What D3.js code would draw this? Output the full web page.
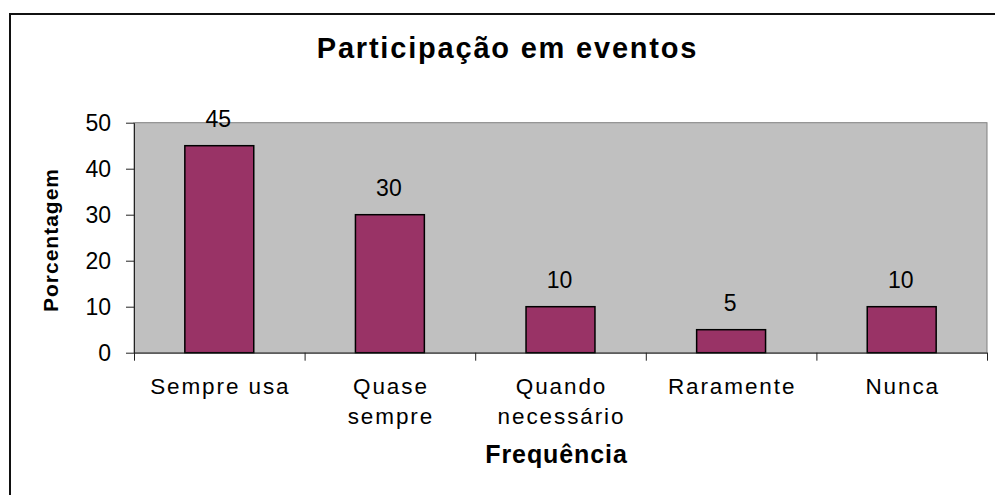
<!DOCTYPE html>
<html>
<head>
<meta charset="utf-8">
<script src="https://cdn.jsdelivr.net/npm/d3@7"></script>
<style>
  html, body { margin: 0; padding: 0; background: #fff; }
  svg { display: block; }
  text { font-family: "Liberation Sans", Arial, sans-serif; fill: #000; }
</style>
</head>
<body>
<svg id="chart" width="995" height="495"></svg>
<script>
const categories = [["Sempre usa"], ["Quase", "sempre"], ["Quando", "necessário"], ["Raramente"], ["Nunca"]];
const values = [45, 30, 10, 5, 10];
const yTicks = [0, 10, 20, 30, 40, 50];
const title = "Participação em eventos";
const xTitle = "Frequência";
const yTitle = "Porcentagem";

const svg = d3.select("#chart");
const W = 995, H = 495;
const plot = { left: 134, right: 987, top: 122.7, bottom: 352.7 };

svg.append("rect").attr("x", 0).attr("y", 0).attr("width", W).attr("height", H).attr("fill", "#fff");
// outer chart border (extends beyond the visible area on right/bottom)
svg.append("rect").attr("x", 10).attr("y", 14).attr("width", 1100).attr("height", 600)
  .attr("fill", "none").attr("stroke", "#111").attr("stroke-width", 2);

const idx = d3.range(categories.length);
const x = d3.scaleBand().domain(idx).range([plot.left, plot.right])
  .paddingInner(0.596).paddingOuter(0.298);
const xEdge = d3.scaleLinear().domain([0, categories.length]).range([plot.left, plot.right]);
const y = d3.scaleLinear().domain([0, 50]).range([plot.bottom, plot.top]);

// plot area
svg.append("rect").attr("x", plot.left).attr("y", plot.top)
  .attr("width", plot.right - plot.left).attr("height", plot.bottom - plot.top)
  .attr("fill", "#c0c0c0").attr("stroke", "#808080").attr("stroke-width", 1);

// bars
svg.append("g").selectAll("rect").data(values).join("rect")
  .attr("x", (d, i) => x(i))
  .attr("y", d => y(d))
  .attr("width", x.bandwidth())
  .attr("height", d => y(0) - y(d))
  .attr("fill", "#993366").attr("stroke", "#000").attr("stroke-width", 1.5);

// value labels
svg.append("g").selectAll("text").data(values).join("text")
  .attr("x", (d, i) => x(i) + x.bandwidth() / 2 - 1)
  .attr("y", d => y(d) - 19)
  .attr("text-anchor", "middle")
  .style("font-size", "23px")
  .text(d => d);

// y axis
const yAxis = svg.append("g").attr("transform", `translate(${plot.left},0)`)
  .call(d3.axisLeft(y).tickValues(yTicks).tickSize(8).tickPadding(15).tickSizeOuter(0));
yAxis.select(".domain").attr("stroke", "#222");
yAxis.selectAll(".tick line").attr("stroke", "#222");
yAxis.selectAll("text").style("font-size", "23px").style("font-family", '"Liberation Sans", Arial, sans-serif').attr("fill", "#000");

// x axis (ticks at category boundaries)
const xAxis = svg.append("g").attr("transform", `translate(0,${plot.bottom})`)
  .call(d3.axisBottom(xEdge).tickValues(d3.range(categories.length + 1)).tickFormat("").tickSize(8).tickSizeOuter(0));
xAxis.select(".domain").attr("stroke", "#222");
xAxis.selectAll(".tick line").attr("stroke", "#222");

// category labels
const lbl = svg.append("g").selectAll("text").data(categories).join("text")
  .attr("text-anchor", "middle")
  .style("font-size", "22.5px").style("letter-spacing", "1.9px");
lbl.each(function (lines, i) {
  const t = d3.select(this);
  lines.forEach((ln, j) => {
    t.append("tspan").attr("x", x(i) + x.bandwidth() / 2 + 1).attr("y", 394 + j * 30).text(ln);
  });
});

// titles
svg.append("text").attr("x", 507.5).attr("y", 58)
  .attr("text-anchor", "middle").style("font-size", "29px").style("font-weight", "bold")
  .style("letter-spacing", "1.8px").text(title);
svg.append("text").attr("x", 556.5).attr("y", 463)
  .attr("text-anchor", "middle").style("font-size", "25px").style("font-weight", "bold")
  .style("letter-spacing", "0.9px").text(xTitle);
svg.append("text").attr("transform", `translate(58,240) rotate(-90)`)
  .attr("text-anchor", "middle").style("font-size", "21px").style("font-weight", "bold")
  .style("letter-spacing", "1px").text(yTitle);
</script>
</body>
</html>
